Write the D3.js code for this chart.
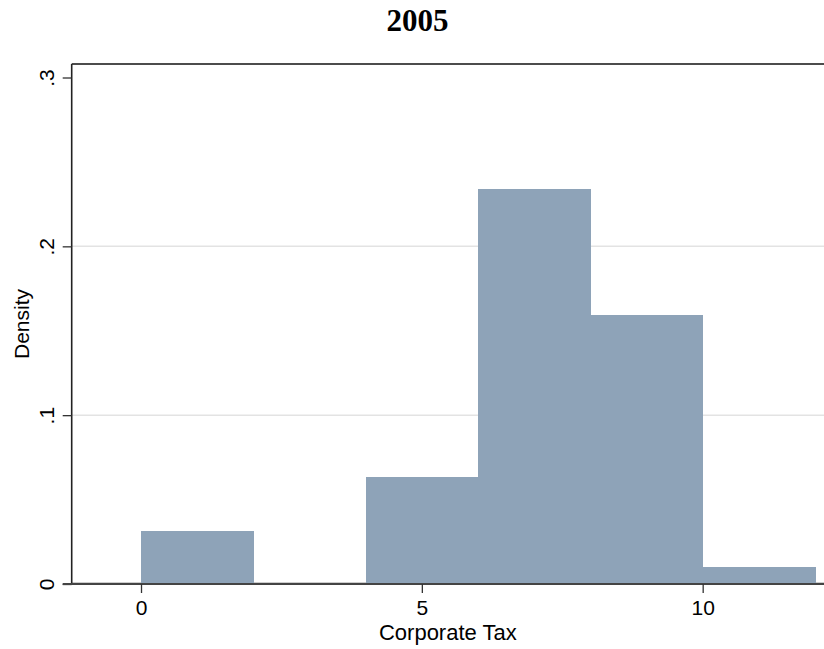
<!DOCTYPE html>
<html>
<head>
<meta charset="utf-8">
<script src="https://cdn.jsdelivr.net/npm/d3@7"></script>
<style>
  html, body { margin: 0; padding: 0; background: #fff; }
  svg { display: block; }
</style>
</head>
<body>
<svg id="chart" width="824" height="649"></svg>
<script>
// ---- data ----
const titleText = "2005";
const xLabel = "Corporate Tax";
const yLabel = "Density";
const binStarts = [0, 2, 4, 6, 8, 10];
const binWidth = 2;
const densities = [0.0314, 0, 0.0634, 0.234, 0.1594, 0.0101];
const xTicks = [0, 5, 10];
const yTicks = [0, 0.1, 0.2, 0.3];
const yTickLabels = ["0", ".1", ".2", ".3"];
const gridValues = [0.1, 0.2];

// ---- layout ----
const W = 824, H = 649;
const plotL = 71.7, plotR = 824, plotT = 64, plotB = 584;
const svg = d3.select("#chart");

const x = d3.scaleLinear().domain([-1.234, 12.16]).range([plotL, plotR]);
const y = d3.scaleLinear().domain([0, 0.308]).range([plotB, plotT]);

const sans = "'Liberation Sans', Arial, Helvetica, sans-serif";

// gridlines
svg.append("g").selectAll("line").data(gridValues).join("line")
  .attr("x1", plotL).attr("x2", plotR)
  .attr("y1", d => y(d)).attr("y2", d => y(d))
  .attr("stroke", "#e3e3e3").attr("stroke-width", 1.5);

// plot region bottom line (light)
svg.append("line").attr("x1", plotL).attr("x2", plotR)
  .attr("y1", plotB - 1).attr("y2", plotB - 1)
  .attr("stroke", "#bdbdbd").attr("stroke-width", 1.5);

// bars
const bins = binStarts.map((s, i) => ({ x0: s, x1: s + binWidth, d: densities[i] }));
svg.append("g").attr("shape-rendering", "crispEdges")
  .selectAll("rect").data(bins.filter(b => b.d > 0)).join("rect")
  .attr("x", d => x(d.x0))
  .attr("width", d => x(d.x1) - x(d.x0) + 0.5)
  .attr("y", d => y(d.d))
  .attr("height", d => y(0) - y(d.d))
  .attr("fill", "#8ea3b8");

// top frame
svg.append("line").attr("x1", plotL).attr("x2", plotR)
  .attr("y1", plotT).attr("y2", plotT)
  .attr("stroke", "#111").attr("stroke-width", 1.6);

// y axis
const yAxis = d3.axisLeft(y).tickValues(yTicks)
  .tickFormat((d, i) => yTickLabels[i]).tickSize(9).tickPadding(8);
const gy = svg.append("g").attr("transform", `translate(${plotL},0)`).call(yAxis);
gy.select(".domain").attr("d", `M0,${plotT}V${plotB}`).attr("stroke", "#222").attr("stroke-width", 1.6);
gy.selectAll(".tick line").attr("stroke", "#333").attr("stroke-width", 1.3);
gy.selectAll(".tick text")
  .attr("font-family", sans).attr("font-size", 21).attr("fill", "#000")
  .attr("transform", "rotate(-90)")
  .attr("x", 0).attr("y", -18)
  .attr("dy", 0)
  .attr("text-anchor", "middle");

// x axis
const xAxis = d3.axisBottom(x).tickValues(xTicks).tickSize(9).tickPadding(6);
const gx = svg.append("g").attr("transform", `translate(0,${plotB})`).call(xAxis);
gx.select(".domain").attr("d", `M${plotL - 9},0H${plotR}`).attr("stroke", "#444").attr("stroke-width", 2.2);
gx.selectAll(".tick line").attr("stroke", "#333").attr("stroke-width", 1.3);
gx.selectAll(".tick text")
  .attr("font-family", sans).attr("font-size", 21).attr("fill", "#000")
  .attr("y", 31).attr("dy", 0);

// axis titles
svg.append("text").attr("x", x(5) + 26).attr("y", 640)
  .attr("text-anchor", "middle").attr("font-family", sans).attr("font-size", 22)
  .text(xLabel);
svg.append("text").attr("transform", `translate(29,${(plotT + plotB) / 2}) rotate(-90)`)
  .attr("text-anchor", "middle").attr("font-family", sans).attr("font-size", 21)
  .text(yLabel);

// title
svg.append("text").attr("x", 417.5).attr("y", 31)
  .attr("text-anchor", "middle")
  .attr("font-family", "'Liberation Serif', 'Times New Roman', serif")
  .attr("font-weight", "bold").attr("font-size", 31)
  .text(titleText);
</script>
</body>
</html>
